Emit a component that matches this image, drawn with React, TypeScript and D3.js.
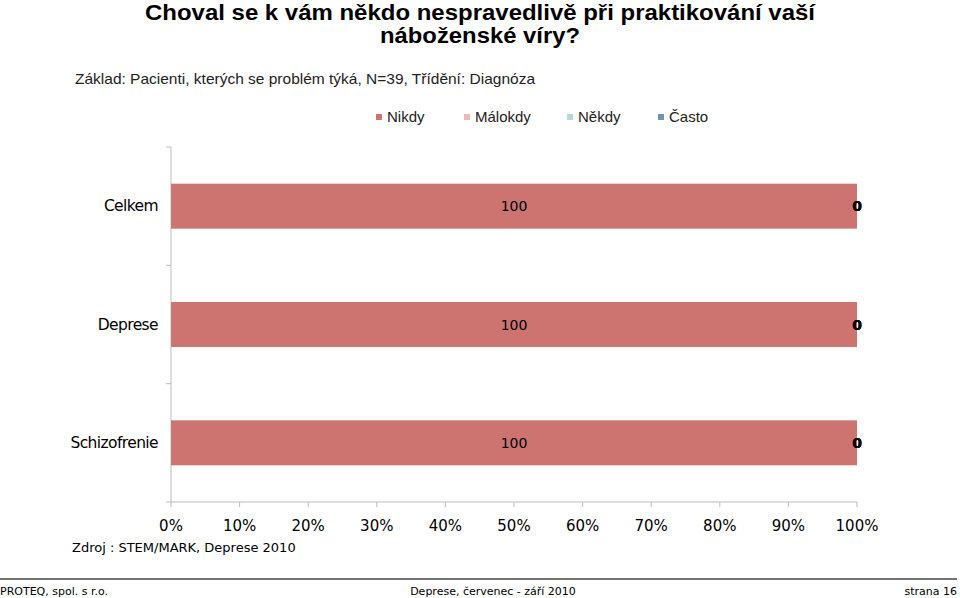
import React from "react";
import * as d3 from "d3";

const categories = ["Celkem", "Deprese", "Schizofrenie"];
const seriesNames = ["Nikdy", "Málokdy", "Někdy", "Často"];
const seriesColors = ["#cd7470", "#eab9b9", "#b9d5e1", "#6b97ae"];
const nikdy = [100, 100, 100];
const malokdy = [0, 0, 0];
const nekdy = [0, 0, 0];
const casto = [0, 0, 0];
const xTicks = [0, 10, 20, 30, 40, 50, 60, 70, 80, 90, 100];

const W = 960, H = 598;

export default function App() {
  const x = d3.scaleLinear().domain([0, 100]).range([171, 857]);
  const y = d3.scaleBand().domain(categories).range([147, 502]).paddingInner(0.62).paddingOuter(0.31);
  const seriesVals = [nikdy, malokdy, nekdy, casto];
  const stacked = categories.map((c, i) => {
    let acc = 0;
    return seriesVals.map((s, k) => {
      const v = s[i];
      const seg = { k, x0: acc, x1: acc + v, v };
      acc += v;
      return seg;
    });
  });
  const bandStep = (502 - 147) / categories.length;
  const boundaries = d3.range(categories.length + 1).map((i) => 147 + i * bandStep);
  const sans = "'Liberation Sans', Arial, sans-serif";
  const verd = "'DejaVu Sans', Verdana, sans-serif";
  const legendX = [376, 464, 567, 658];
  return (
    <svg width={W} height={H} style={{ position: "absolute", left: 0, top: 0 }}>
      <rect width={W} height={H} fill="#fff" />
      <text x={145} y={20} textLength={670} lengthAdjust="spacingAndGlyphs" fontFamily={sans} fontWeight="bold" fontSize={22} fill="#000">
        Choval se k vám někdo nespravedlivě při praktikování vaší
      </text>
      <text x={380} y={43} textLength={200} lengthAdjust="spacingAndGlyphs" fontFamily={sans} fontWeight="bold" fontSize={22} fill="#000">
        náboženské víry?
      </text>
      <text x={75} y={84} textLength={460} lengthAdjust="spacingAndGlyphs" fontFamily={sans} fontSize={14.5} fill="#222">
        Základ: Pacienti, kterých se problém týká, N=39, Třídění: Diagnóza
      </text>
      {seriesNames.map((n, k) => (
        <g key={n}>
          <rect x={legendX[k]} y={114} width={6} height={6} fill={seriesColors[k]} />
          <text x={legendX[k] + 11} y={122} fontFamily={sans} fontSize={15} fill="#222">{n}</text>
        </g>
      ))}
      <line x1={171} x2={171} y1={147} y2={502} stroke="#bdbdbd" />
      {boundaries.map((b, i) => (
        <line key={i} x1={166} x2={171} y1={b} y2={b} stroke="#bdbdbd" />
      ))}
      <line x1={171} x2={857} y1={502} y2={502} stroke="#bdbdbd" />
      {xTicks.map((t) => (
        <g key={t}>
          <line x1={x(t)} x2={x(t)} y1={502} y2={507} stroke="#bdbdbd" />
          <text x={x(t)} y={531} textAnchor="middle" fontFamily={verd} fontSize={15} fill="#000">{t}%</text>
        </g>
      ))}
      {categories.map((c, i) => (
        <g key={c}>
          <text x={158} y={y(c)! + y.bandwidth() / 2 + 5} textAnchor="end" fontFamily={verd} fontSize={15.5} letterSpacing={-0.6} fill="#000">{c}</text>
          {stacked[i].map((s) => (
            <rect key={s.k} x={x(s.x0)} y={y(c)} width={x(s.x1) - x(s.x0)} height={y.bandwidth()} fill={seriesColors[s.k]} />
          ))}
          {stacked[i].map((s) => (
            <text key={"l" + s.k} x={x((s.x0 + s.x1) / 2)} y={y(c)! + y.bandwidth() / 2 + 5} textAnchor="middle" fontFamily={verd} fontSize={14} fontWeight={s.v === 0 ? "bold" : "normal"} fill="#000">{s.v}</text>
          ))}
        </g>
      ))}
      <text x={72} y={552} fontFamily={verd} fontSize={13} fill="#000">Zdroj : STEM/MARK, Deprese 2010</text>
      <line x1={0} x2={957} y1={579} y2={579} stroke="#444" strokeWidth={1.5} />
      <text x={0} y={595} fontFamily={verd} fontSize={11} fill="#000">PROTEQ, spol. s r.o.</text>
      <text x={493} y={595} textAnchor="middle" fontFamily={verd} fontSize={11} fill="#000">Deprese, červenec - září 2010</text>
      <text x={957} y={595} textAnchor="end" fontFamily={verd} fontSize={11} fill="#000">strana 16</text>
    </svg>
  );
}
